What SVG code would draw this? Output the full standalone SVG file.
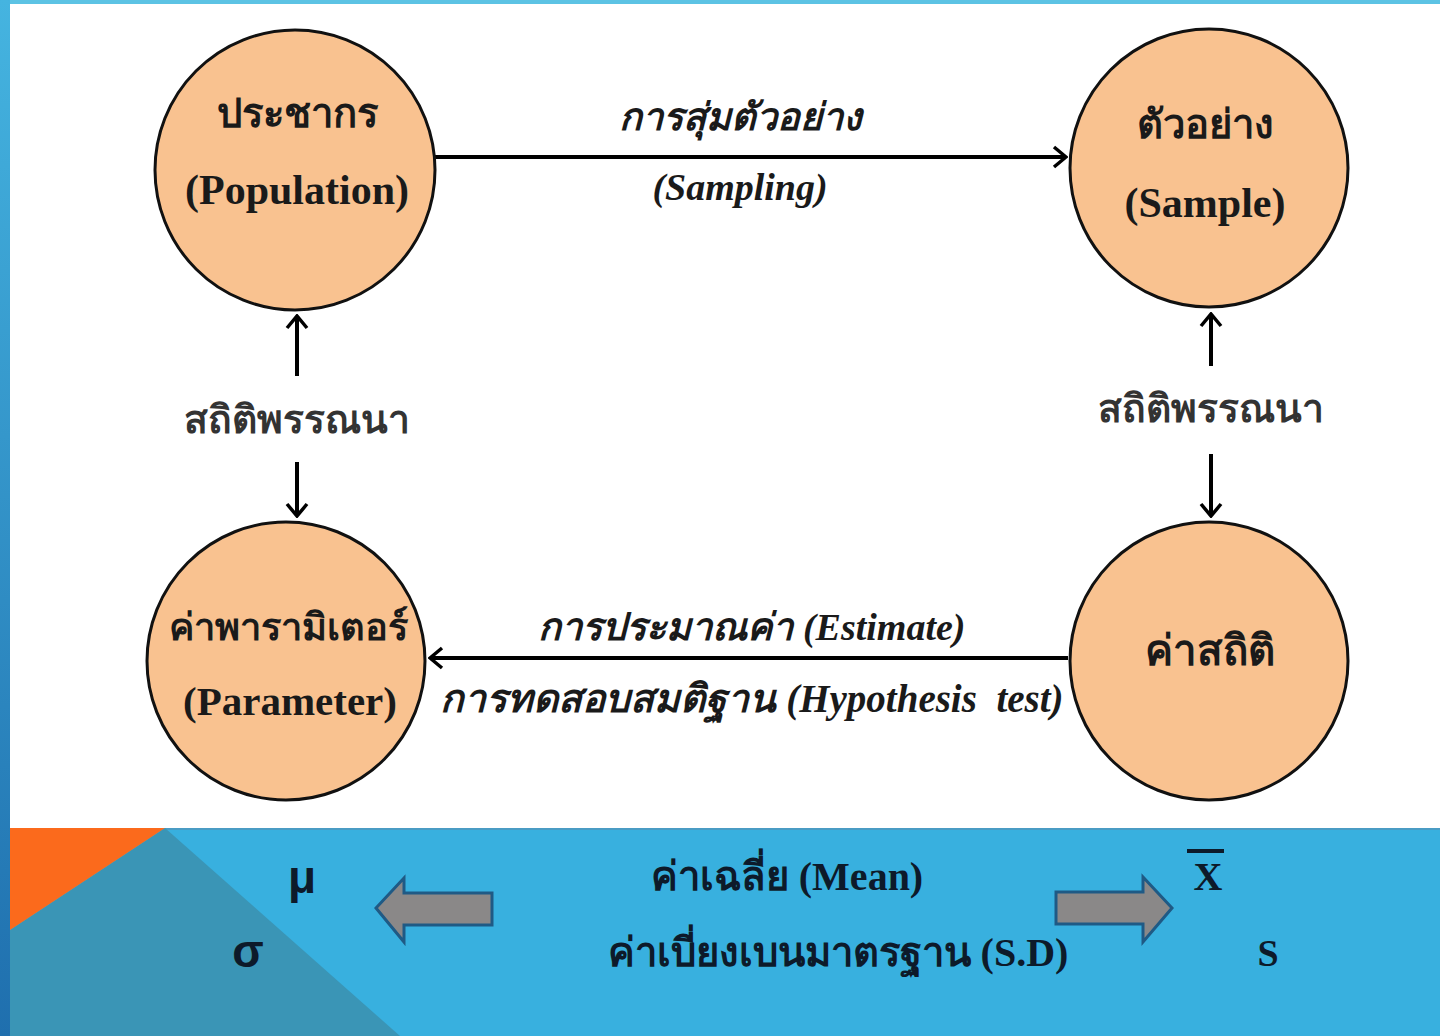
<svg xmlns="http://www.w3.org/2000/svg" width="1440" height="1036" viewBox="0 0 1440 1036">
<defs>
<style>
.node{fill:#f9c290;stroke:#111;stroke-width:3}
.t{font-family:"Liberation Serif","Noto Serif","DejaVu Serif",serif;font-weight:bold;fill:#1a1a1a;text-anchor:middle}
.ti{font-family:"Liberation Serif","Noto Serif","DejaVu Serif",serif;font-weight:bold;font-style:italic;fill:#1a1a1a;text-anchor:middle}
.conn{stroke:#000;stroke-width:4;fill:none}
.sym{font-family:"Liberation Sans","DejaVu Sans",sans-serif;font-weight:bold;fill:#0d1a2a;text-anchor:middle}
.blk{fill:#8a8888;stroke:#1f5a85;stroke-width:3}
</style>
<marker id="ah" viewBox="0 0 16 24" refX="14" refY="12" markerWidth="16" markerHeight="24" markerUnits="userSpaceOnUse" orient="auto">
<path d="M2,2 L14,12 L2,22" fill="none" stroke="#000" stroke-width="3.5"/>
</marker>
<linearGradient id="strip" x1="0" y1="0" x2="0" y2="1">
<stop offset="0" stop-color="#45b4e0"/>
<stop offset="1" stop-color="#1f6fae"/>
</linearGradient>
</defs>
<rect width="1440" height="1036" fill="#ffffff"/>
<rect x="0" y="0" width="1440" height="4" fill="#5cc3e4"/>
<rect x="0" y="0" width="10" height="1036" fill="url(#strip)"/>

<g id="bottom-band">
<rect x="10" y="828" width="1430" height="208" fill="#38b0df"/>
<rect x="10" y="828" width="1430" height="2" fill="#4a9cc4"/>
<polygon points="10,930 165,828 400,1036 10,1036" fill="#3a95b6"/>
<polygon points="10,828 165,828 10,930" fill="#fb6a1c"/>
</g>

<g id="connectors">
<line class="conn" x1="430" y1="157" x2="1066" y2="157" marker-end="url(#ah)"/>
<line class="conn" x1="1068" y1="658" x2="430" y2="658" marker-end="url(#ah)"/>
<line class="conn" x1="297" y1="376" x2="297" y2="316" marker-end="url(#ah)"/>
<line class="conn" x1="297" y1="462" x2="297" y2="516" marker-end="url(#ah)"/>
<line class="conn" x1="1211" y1="366" x2="1211" y2="314" marker-end="url(#ah)"/>
<line class="conn" x1="1211" y1="454" x2="1211" y2="516" marker-end="url(#ah)"/>
</g>

<g id="connector-labels">
<text class="ti" x="740" y="130" font-size="38">การสุ่มตัวอย่าง</text>
<text class="ti" x="740" y="200" font-size="38">(Sampling)</text>
<text class="ti" x="752" y="640" font-size="38">การประมาณค่า (Estimate)</text>
<text class="ti" x="752" y="712" font-size="39">การทดสอบสมติฐาน (Hypothesis&#160; test)</text>
<text class="t" x="297" y="433" font-size="39" style="fill:#333">สถิติพรรณนา</text>
<text class="t" x="1211" y="422" font-size="39" style="fill:#333">สถิติพรรณนา</text>
</g>

<g id="node-population">
<circle class="node" cx="295" cy="170" r="140"/>
<text class="t" x="297" y="127" font-size="40">ประชากร</text>
<text class="t" x="297" y="204" font-size="42">(Population)</text>
</g>

<g id="node-sample">
<circle class="node" cx="1209" cy="168" r="139"/>
<text class="t" x="1205" y="138" font-size="40">ตัวอย่าง</text>
<text class="t" x="1205" y="217" font-size="42">(Sample)</text>
</g>

<g id="node-parameter">
<circle class="node" cx="286" cy="661" r="139"/>
<text class="t" x="288" y="640" font-size="38">ค่าพารามิเตอร์</text>
<text class="t" x="290" y="715" font-size="41">(Parameter)</text>
</g>

<g id="node-statistic">
<circle class="node" cx="1209" cy="661" r="139"/>
<text class="t" x="1210" y="665" font-size="42">ค่าสถิติ</text>
</g>

<g id="bottom-content">
<polygon class="blk" points="492,893 404,893 404,878 376,908 404,942 404,925 492,925"/>
<polygon class="blk" points="1056,892 1143,892 1143,877 1172,908 1143,942 1143,924 1056,924"/>
<text class="sym" x="302" y="893" font-size="46">μ</text>
<text class="sym" x="248" y="967" font-size="46">σ</text>
<text class="t" x="1208" y="890" font-size="40" style="fill:#0d1a2a">X</text>
<rect x="1187" y="849" width="37" height="4" fill="#0d1a2a"/>
<text class="t" x="1268" y="966" font-size="38" style="fill:#0d1a2a">S</text>
<text class="t" x="787" y="890" font-size="40" style="fill:#0d1a2a">ค่าเฉลี่ย (Mean)</text>
<text class="t" x="838" y="966" font-size="40" style="fill:#0d1a2a">ค่าเบี่ยงเบนมาตรฐาน (S.D)</text>
</g>
</svg>
